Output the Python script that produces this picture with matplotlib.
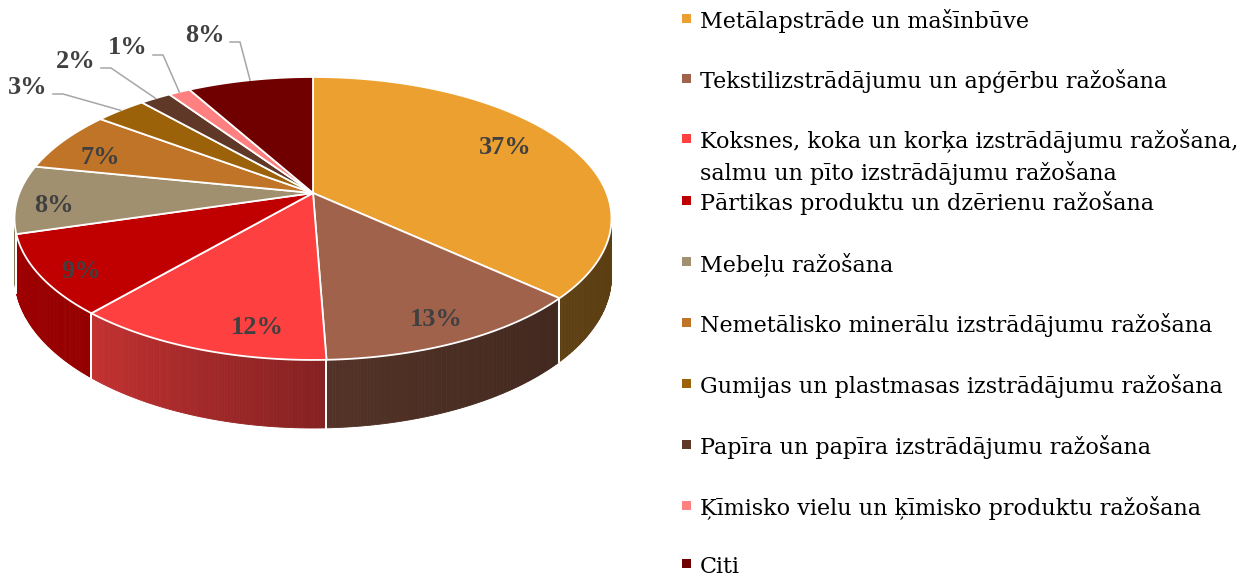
import numpy as np
import matplotlib
matplotlib.use("Agg")
import matplotlib.pyplot as plt
from matplotlib.patches import Polygon, Rectangle
from matplotlib.colors import to_rgb

# ---------------- data ----------------
categories = [
    "Metālapstrāde un mašīnbūve",
    "Tekstilizstrādājumu un apģērbu ražošana",
    "Koksnes, koka un korķa izstrādājumu ražošana,\nsalmu un pīto izstrādājumu ražošana",
    "Pārtikas produktu un dzērienu ražošana",
    "Mebeļu ražošana",
    "Nemetālisko minerālu izstrādājumu ražošana",
    "Gumijas un plastmasas izstrādājumu ražošana",
    "Papīra un papīra izstrādājumu ražošana",
    "Ķīmisko vielu un ķīmisko produktu ražošana",
    "Citi",
]
shares = [36.8, 12.6, 11.9, 9.1, 7.8, 7.0, 3.3, 2.0, 1.4, 8.1]
pct_labels = ["37%", "13%", "12%", "9%", "8%", "7%", "3%", "2%", "1%", "8%"]
colors = ["#ECA02F", "#A0624B", "#FF4040", "#C00000", "#A09070",
          "#C07428", "#9C620A", "#603828", "#FF8080", "#700000"]

# ---------------- layout / style ----------------
W, H = 1242, 578
CX, CY = 313.0, 193.0      # projected pie centre (px)
RX, RY = 293.6, 136.9      # projected radii (px)
Q = 0.18                   # perspective strength
DEPTH = 55.8               # pie thickness (px)

label_pos = [(505, 148), (436, 320), (257, 327), (81, 271), (54, 205),
             (100, 157), (28, 87), (76, 61), (128, 48), (205, 35)]
has_leader = [False] * 6 + [True] * 4
label_color = "#404040"
leader_color = "#A6A6A6"

legend_x_marker = 682
legend_x_text = 700
legend_baselines = [28, 88, 148, 210, 271, 332, 393, 454, 515, 573]
legend_line_gap = 32

label_font = ["Liberation Serif", "DejaVu Serif"]
legend_font = ["DejaVu Serif"]

fig = plt.figure(figsize=(W / 100, H / 100), dpi=100)
ax = fig.add_axes([0, 0, 1, 1])
ax.set_xlim(0, W)
ax.set_ylim(H, 0)
ax.axis("off")


def proj(theta_deg, r=1.0):
    t = np.radians(theta_deg)
    s = np.sin(t) * r
    c = np.cos(t) * r
    u = 1 + Q * c
    return CX + RX * s / u, CY - RY * c / u, u


vals = np.array(shares, dtype=float)
edges = np.concatenate([[0], np.cumsum(vals)]) / vals.sum() * 360.0

# side shading as a function of angle (lighting)
shade_t = [90, 132, 178, 221, 270]
shade_f = [0.38, 0.40, 0.52, 0.77, 0.86]

vis0 = 90 + np.degrees(np.arcsin(Q))
vis1 = 270 - np.degrees(np.arcsin(Q))

# ---- sides ----
for i, col in enumerate(colors):
    a0, a1 = edges[i], edges[i + 1]
    s0, s1 = max(a0, vis0), min(a1, vis1)
    if s1 <= s0:
        continue
    base = np.array(to_rgb(col))
    n = max(2, int((s1 - s0) / 0.5))
    ts = np.linspace(s0, s1, n + 1)
    for k in range(n):
        t0, t1 = ts[k], ts[k + 1]
        x0, y0, u0 = proj(t0)
        x1, y1, u1 = proj(t1)
        f = np.interp((t0 + t1) / 2, shade_t, shade_f)
        c = np.clip(base * f, 0, 1)
        poly = Polygon([(x0, y0), (x1, y1), (x1, y1 + DEPTH / u1), (x0, y0 + DEPTH / u0)],
                       closed=True, facecolor=c, edgecolor=c, linewidth=0.6, zorder=1)
        ax.add_patch(poly)
    for b in (a0, a1):
        if vis0 < b < vis1:
            xb, yb, ub = proj(b)
            ax.plot([xb, xb], [yb, yb + DEPTH / ub], color="white", lw=1.3, zorder=2)

# ---- top faces ----
for i, col in enumerate(colors):
    a0, a1 = edges[i], edges[i + 1]
    ts = np.linspace(a0, a1, max(3, int((a1 - a0) / 0.5) + 1))
    pts = [(CX, CY)] + [proj(t)[:2] for t in ts]
    ax.add_patch(Polygon(pts, closed=True, facecolor=col, edgecolor="white",
                         linewidth=1.3, joinstyle="miter", zorder=3))

# ---- data labels ----
for i, lab in enumerate(pct_labels):
    lx, ly = label_pos[i]
    ax.text(lx, ly, lab, ha="center", va="center", fontsize=19, fontweight="bold",
            color=label_color, family=label_font, zorder=5)
    if has_leader[i]:
        mid = (edges[i] + edges[i + 1]) / 2
        axx, axy, _ = proj(mid)
        sx, sy = lx + 25, ly + 7
        ax.plot([sx, sx + 10, axx], [sy, sy, axy], color=leader_color, lw=1.1, zorder=4)

# ---- legend ----
for i, (cat, col) in enumerate(zip(categories, colors)):
    yb = legend_baselines[i]
    ax.add_patch(Rectangle((legend_x_marker, yb - 14.5), 9, 9, facecolor=col,
                           edgecolor="none", zorder=5))
    for j, line in enumerate(cat.split("\n")):
        ax.text(legend_x_text, yb + j * legend_line_gap, line, ha="left", va="baseline",
                fontsize=16, color="black", family=legend_font, zorder=5)

fig.savefig("out.png", dpi=100)
